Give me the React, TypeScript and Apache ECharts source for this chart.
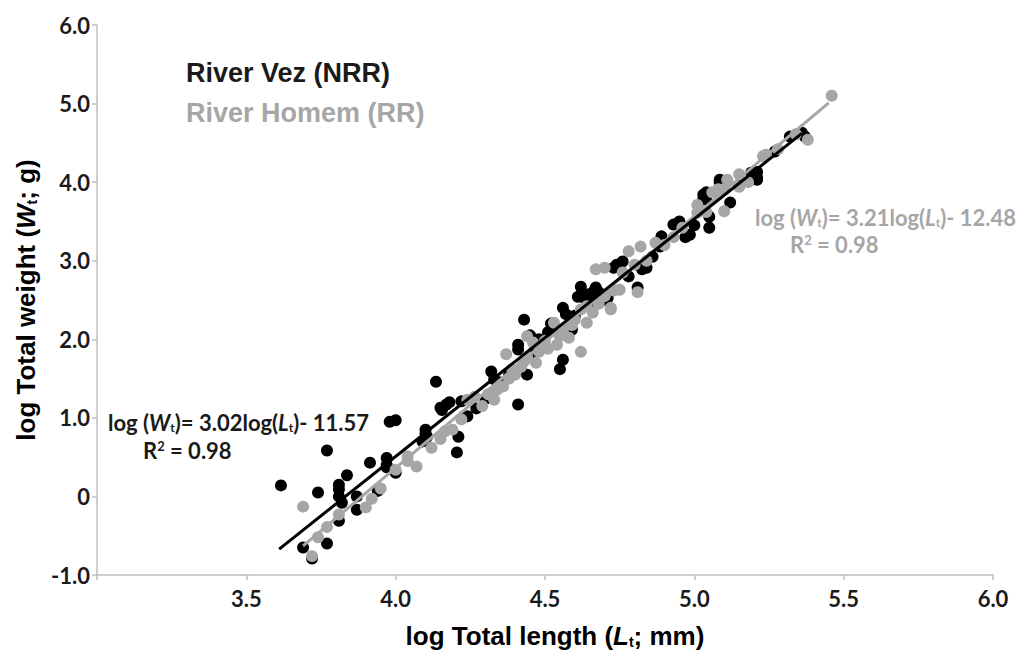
import React, { useEffect, useRef } from "react";
import * as echarts from "echarts";

// River Vez (NRR) — black points [log Lt, log Wt]
const vezPoints: number[][] = [
  [3.616, 0.14], [3.69, -0.65], [3.72, -0.79], [3.74, 0.05], [3.77, 0.585], [3.77, -0.6],
  [3.81, 0.15], [3.81, 0.09], [3.81, 0.0], [3.82, -0.08], [3.81, -0.31], [3.837, 0.27],
  [3.87, 0.0], [3.87, -0.17], [3.914, 0.43], [3.94, 0.07], [3.97, 0.49], [3.97, 0.4],
  [3.97, 0.37], [4.0, 0.3], [3.98, 0.95], [4.0, 0.97], [4.09, 0.7], [4.1, 0.85],
  [4.105, 0.76], [4.1, 0.8], [4.135, 1.46], [4.15, 1.13], [4.17, 1.17], [4.18, 1.2],
  [4.155, 1.1], [4.205, 0.56], [4.21, 0.76], [4.22, 1.21], [4.24, 1.02], [4.27, 1.12],
  [4.3, 1.24], [4.32, 1.59], [4.33, 1.49], [4.35, 1.45], [4.38, 1.55], [4.41, 1.17],
  [4.41, 1.93], [4.41, 1.87], [4.43, 2.25], [4.44, 1.55], [4.46, 1.83], [4.48, 2.0],
  [4.45, 2.05], [4.52, 2.2], [4.6, 2.3],
  [4.51, 2.09], [4.53, 2.15], [4.55, 1.62], [4.56, 1.74], [4.56, 2.4], [4.57, 2.32],
  [4.59, 2.12], [4.61, 2.54], [4.62, 2.67], [4.63, 2.57], [4.63, 2.53], [4.64, 2.57],
  [4.66, 2.6], [4.66, 2.48], [4.67, 2.66], [4.68, 2.6], [4.7, 2.5], [4.71, 2.53],
  [4.73, 2.91], [4.74, 2.95], [4.76, 2.99], [4.78, 2.8], [4.81, 2.66], [4.825, 2.89],
  [4.84, 2.91], [4.86, 3.05], [4.885, 3.18], [4.89, 3.31], [4.93, 3.46], [4.95, 3.5],
  [4.97, 3.3], [4.985, 3.33], [5.0, 3.45], [5.03, 3.84], [5.03, 3.78], [5.04, 3.87],
  [5.04, 3.78], [5.05, 3.56], [5.05, 3.42], [5.085, 4.0], [5.085, 4.03], [5.12, 3.74],
  [5.15, 3.95], [5.19, 4.12], [5.21, 4.13], [5.21, 4.06], [5.21, 4.03], [5.27, 4.39],
  [5.32, 4.58], [5.36, 4.63], [5.37, 4.58],
];

// River Homem (RR) — grey points [log Lt, log Wt]
const homemPoints: number[][] = [
  [3.69, -0.13], [3.72, -0.76], [3.74, -0.52], [3.77, -0.39], [3.81, -0.23], [3.9, -0.14],
  [3.92, -0.03], [3.95, 0.1], [4.0, 0.34], [4.04, 0.45], [4.04, 0.51], [4.07, 0.38],
  [4.12, 0.62], [4.15, 0.73], [4.165, 0.83], [4.19, 0.85], [4.22, 0.98], [4.24, 1.23],
  [4.265, 1.27], [4.29, 1.15], [4.31, 1.3], [4.33, 1.23], [4.34, 1.36], [4.36, 1.4],
  [4.37, 1.81], [4.38, 1.5], [4.39, 1.62], [4.4, 1.55], [4.42, 1.65], [4.43, 1.72],
  [4.44, 2.04], [4.44, 1.78], [4.46, 1.96], [4.47, 1.7], [4.48, 1.84], [4.49, 1.9],
  [4.5, 1.98], [4.51, 1.88], [4.53, 2.21], [4.54, 1.93], [4.55, 2.04], [4.56, 2.1],
  [4.58, 2.02], [4.59, 2.18], [4.6, 2.25], [4.62, 2.38], [4.62, 1.84], [4.64, 2.42],
  [4.64, 2.21], [4.66, 2.34], [4.67, 2.89], [4.68, 2.45], [4.7, 2.91], [4.7, 2.55],
  [4.72, 2.38], [4.72, 2.4], [4.73, 2.62], [4.75, 2.63], [4.76, 2.85], [4.78, 3.12],
  [4.8, 2.95], [4.81, 2.6], [4.82, 3.18], [4.84, 3.0], [4.87, 3.23], [4.9, 3.2],
  [4.93, 3.3], [4.96, 3.42], [5.01, 3.71], [5.01, 3.61], [5.04, 3.62], [5.06, 3.87],
  [5.08, 3.91], [5.1, 3.91], [5.1, 3.63], [5.11, 4.03], [5.15, 3.94], [5.15, 4.1],
  [5.18, 4.0], [5.23, 4.33], [5.24, 4.35], [5.28, 4.42], [5.34, 4.61], [5.38, 4.54],
  [5.46, 5.1],
];

// Regression line end points
const vezFit: number[][] = [[3.61, -0.67], [5.36, 4.62]];
const homemFit: number[][] = [[3.69, -0.63], [5.45, 5.01]];

const xTicks = { min: 3.0, max: 6.0, interval: 0.5 };
const yTicks = { min: -1, max: 6, interval: 1 };

const BLACK = "#000000";
const GREY = "#a6a6a6";
const TEXT_BLACK = "#1a1a1a";
const LABEL_FONT = "Lato";
const TITLE_FONT = "Liberation Sans";

export default function App() {
  const ref = useRef<HTMLDivElement>(null);

  useEffect(() => {
    if (!ref.current) return;
    const chart = echarts.init(ref.current, null, { renderer: "svg" });

    const eqRich = (color: string) => ({
      i: { fontStyle: "italic", fontWeight: "bold", fontFamily: LABEL_FONT, fontSize: 22, fill: color, color },
      s: { fontWeight: "bold", fontFamily: LABEL_FONT, fontSize: 12, fill: color, color, verticalAlign: "bottom", padding: [10, 0, 0, 0] },
      n: { fontWeight: "bold", fontFamily: LABEL_FONT, fontSize: 22, fill: color, color },
      sup: { fontWeight: "bold", fontFamily: LABEL_FONT, fontSize: 13, fill: color, color, verticalAlign: "top", padding: [0, 0, 8, 0] },
    });

    const titleRich = {
      i: { fontStyle: "italic", fontWeight: "bold", fontFamily: TITLE_FONT, fontSize: 26, fill: BLACK, color: BLACK },
      s: { fontWeight: "bold", fontFamily: TITLE_FONT, fontSize: 14, fill: BLACK, color: BLACK, verticalAlign: "bottom", padding: [10, 0, 0, 0] },
      n: { fontWeight: "bold", fontFamily: TITLE_FONT, fontSize: 26, fill: BLACK, color: BLACK },
    };

    const option: any = {
      animation: false,
      backgroundColor: "#ffffff",
      grid: { left: 97, right: 31, top: 25, bottom: 85, containLabel: false },
      xAxis: {
        type: "value",
        min: xTicks.min,
        max: xTicks.max,
        interval: xTicks.interval,
        splitLine: { show: false },
        axisLine: { show: true, onZero: false, lineStyle: { color: "#bfbfbf", width: 1.5 } },
        axisTick: { show: true, length: 5, lineStyle: { color: "#bfbfbf", width: 1.5 } },
        axisLabel: {
          margin: 12,
          color: TEXT_BLACK,
          fontFamily: LABEL_FONT,
          fontWeight: "bold",
          fontSize: 22,
          formatter: (v: number) => (Math.abs(v - 3) < 1e-9 ? "" : v.toFixed(1)),
        },
      },
      yAxis: {
        type: "value",
        min: yTicks.min,
        max: yTicks.max,
        interval: yTicks.interval,
        splitLine: { show: false },
        axisLine: { show: true, onZero: false, lineStyle: { color: "#bfbfbf", width: 1.5 } },
        axisTick: { show: true, length: 5, lineStyle: { color: "#bfbfbf", width: 1.5 } },
        axisLabel: {
          margin: 7,
          color: TEXT_BLACK,
          fontFamily: LABEL_FONT,
          fontWeight: "bold",
          fontSize: 22,
          formatter: (v: number) => (v === 0 ? "0" : v.toFixed(1)),
        },
      },
      series: [
        {
          type: "scatter",
          name: "River Vez (NRR)",
          data: vezPoints,
          symbolSize: 12,
          itemStyle: { color: BLACK, opacity: 1 },
          z: 2,
        },
        {
          type: "scatter",
          name: "River Homem (RR)",
          data: homemPoints,
          symbolSize: 12,
          itemStyle: { color: GREY, opacity: 1 },
          z: 3,
        },
        {
          type: "line",
          data: homemFit,
          symbol: "none",
          lineStyle: { color: GREY, width: 3 },
          z: 4,
        },
        {
          type: "line",
          data: vezFit,
          symbol: "none",
          lineStyle: { color: BLACK, width: 3 },
          z: 5,
        },
      ],
      graphic: [
        {
          type: "text",
          x: 186,
          y: 73,
          style: { text: "River Vez (NRR)", fill: TEXT_BLACK, font: `bold 27px "${TITLE_FONT}"`, verticalAlign: "middle" },
        },
        {
          type: "text",
          x: 186,
          y: 113,
          style: { text: "River Homem (RR)", fill: GREY, font: `bold 27px "${TITLE_FONT}"`, verticalAlign: "middle" },
        },
        {
          type: "text",
          x: 108,
          y: 422,
          style: {
            text: "{n|log (}{i|W}{s|t}{n|)= 3.02log(}{i|L}{s|t}{n|)- 11.57}",
            rich: eqRich(TEXT_BLACK),
            fill: TEXT_BLACK,
            verticalAlign: "middle",
          },
        },
        {
          type: "text",
          x: 143,
          y: 450,
          style: { text: "{n|R}{sup|2}{n| = 0.98}", rich: eqRich(TEXT_BLACK), fill: TEXT_BLACK, verticalAlign: "middle" },
        },
        {
          type: "text",
          x: 755,
          y: 217,
          style: {
            text: "{n|log (}{i|W}{s|t}{n|)= 3.21log(}{i|L}{s|t}{n|)- 12.48}",
            rich: eqRich(GREY),
            fill: GREY,
            verticalAlign: "middle",
          },
        },
        {
          type: "text",
          x: 790,
          y: 244,
          style: { text: "{n|R}{sup|2}{n| = 0.98}", rich: eqRich(GREY), fill: GREY, verticalAlign: "middle" },
        },
        {
          type: "text",
          x: 555,
          y: 636,
          style: {
            text: "{n|log Total length (}{i|L}{s|t}{n|; mm)}",
            rich: titleRich,
            fill: BLACK,
            align: "center",
            verticalAlign: "middle",
          },
        },
        {
          type: "text",
          x: 26,
          y: 300,
          rotation: Math.PI / 2,
          style: {
            text: "{n|log Total weight (}{i|W}{s|t}{n|; g)}",
            rich: titleRich,
            fill: BLACK,
            align: "center",
            verticalAlign: "middle",
          },
        },
      ],
    };

    chart.setOption(option);
    return () => chart.dispose();
  }, []);

  return (
    <div
      ref={ref}
      style={{ position: "absolute", left: 0, top: 0, width: 1024, height: 660 }}
    />
  );
}
